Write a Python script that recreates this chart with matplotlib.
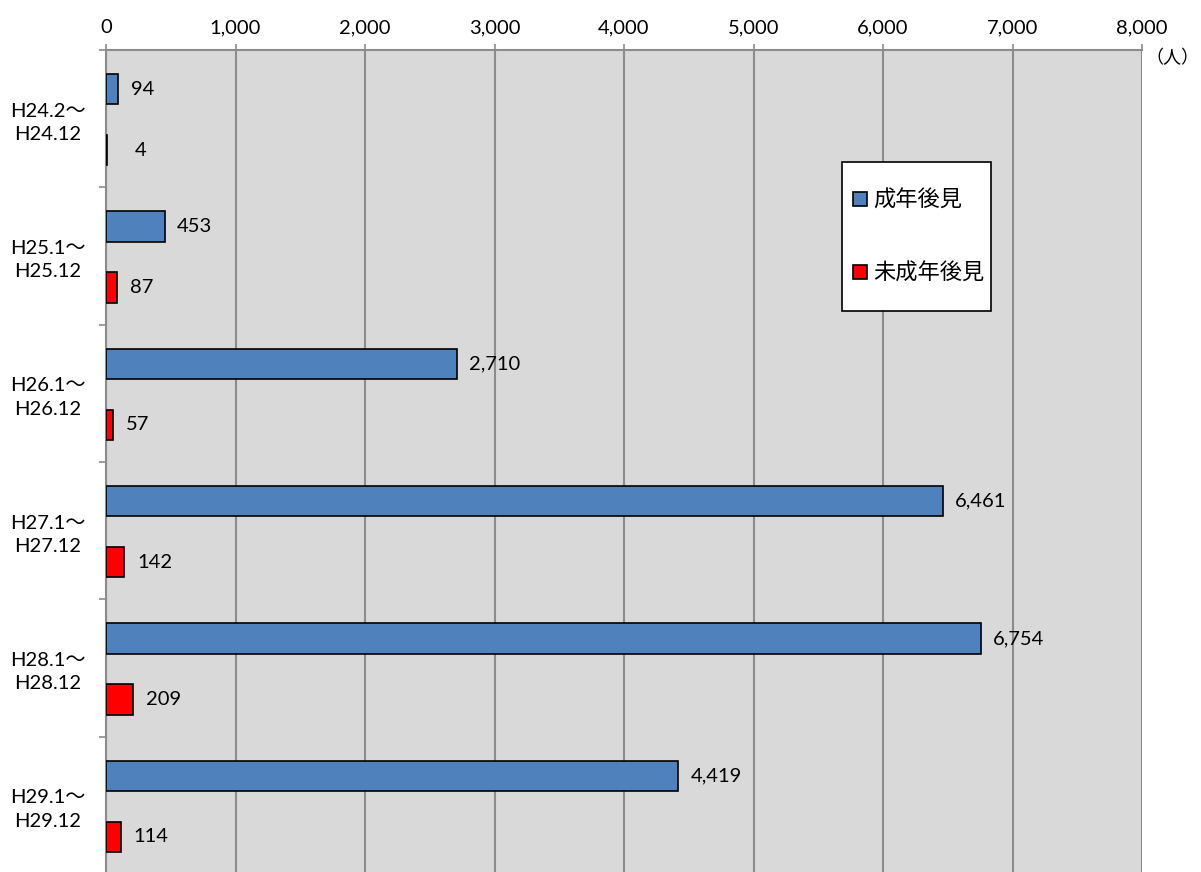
import matplotlib.pyplot as plt
import matplotlib.transforms as mtransforms
from matplotlib.lines import Line2D
from matplotlib.patches import Rectangle
from matplotlib.ticker import FuncFormatter
import numpy as np

plt.rcParams['font.family'] = ['Lato', 'Noto Sans CJK JP', 'DejaVu Sans']

# Data
periods = ['H24.2～\nH24.12', 'H25.1～\nH25.12', 'H26.1～\nH26.12',
           'H27.1～\nH27.12', 'H28.1～\nH28.12', 'H29.1～\nH29.12']
adult = [94, 453, 2710, 6461, 6754, 4419]       # 成年後見
minor = [4, 87, 57, 142, 209, 114]              # 未成年後見
series_names = ['成年後見', '未成年後見']

blue = '#4F81BD'
red = '#FF0000'
grid_gray = '#8C8C8C'
fs = 14.5

W, H = 1201, 872
ax_l, ax_r, ax_t, ax_b = 106, 1142, 50, 874

fig = plt.figure(figsize=(12.01, 8.72), dpi=100)
ax = fig.add_axes([ax_l / W, 1 - ax_b / H, (ax_r - ax_l) / W, (ax_b - ax_t) / H])
ax.set_facecolor('#D9D9D9')

y = np.arange(len(periods))
bar_h = 0.22
ax.barh(y - 0.215, adult, height=bar_h, color=blue, edgecolor='black', linewidth=1.2, zorder=3)
ax.barh(y + 0.23, minor, height=bar_h, color=red, edgecolor='black', linewidth=1.2, zorder=3)

# data labels
for yy, v in zip(y - 0.215, adult):
    ax.annotate(f'{v:,}', (v, yy), xytext=(9, 0), textcoords='offset points',
                va='center', ha='left', fontsize=fs, zorder=4)
for yy, v in zip(y + 0.23, minor):
    ax.annotate(f'{v:,}', (v, yy), xytext=(9 if v > 20 else 20, 0), textcoords='offset points',
                va='center', ha='left', fontsize=fs, zorder=4)

ax.set_xlim(0, 8000)
ax.set_ylim(len(periods) - 0.5, -0.5)
ax.set_xticks(np.arange(0, 8001, 1000))
ax.xaxis.set_major_formatter(FuncFormatter(lambda v, p: f'{int(v):,}'))
ax.xaxis.tick_top()
ax.tick_params(axis='x', length=4, width=1.2, color=grid_gray, pad=6, labelsize=fs)
ax.grid(axis='x', color=grid_gray, linewidth=1.5, zorder=1)

ax.set_yticks(y)
ax.set_yticklabels(periods, fontsize=fs, multialignment='center', ha='center',
                   linespacing=1.45, va='center')
ax.set_yticks(np.arange(-0.5, len(periods) + 0.5, 1), minor=True)
ax.tick_params(axis='y', which='major', length=0, pad=42)
ax.tick_params(axis='y', which='minor', length=5, width=1.2, color=grid_gray)
shift = mtransforms.ScaledTranslation(0, -3 / 72, fig.dpi_scale_trans)
for lbl in ax.get_yticklabels():
    lbl.set_transform(lbl.get_transform() + shift)

for side in ['bottom', 'right']:
    ax.spines[side].set_visible(False)
for side in ['top', 'left']:
    ax.spines[side].set_color(grid_gray)
    ax.spines[side].set_linewidth(1.5)

# legend box
def to_axes(px, py):
    return (px - ax_l) / (ax_r - ax_l), 1 - (py - ax_t) / (ax_b - ax_t)

box_x0, box_y1 = to_axes(842, 311)
box_x1, box_y0 = to_axes(991, 162)
ax.add_patch(Rectangle((box_x0, box_y1), box_x1 - box_x0, box_y0 - box_y1,
                       transform=ax.transAxes, facecolor='white', edgecolor='black',
                       linewidth=1.2, zorder=5))

handles = [Line2D([], [], linestyle='none', marker='s', markersize=9.5,
                  markerfacecolor=c, markeredgecolor='black', markeredgewidth=1.2)
           for c in (blue, red)]
leg = ax.legend(handles, series_names, loc='center left',
                bbox_to_anchor=(to_axes(853, 0)[0], to_axes(0, 236.5)[1]),
                frameon=False, borderpad=0, labelspacing=2.25,
                handlelength=0.6, handletextpad=0.3,
                borderaxespad=0, prop={'family': ['Noto Sans CJK JP'], 'size': 16})
leg.set_zorder(6)

fig.text(1172 / W, 1 - 58 / H, '（人）', ha='center', va='center', fontsize=13,
         family=['Noto Sans CJK JP'])

fig.savefig('out.png', dpi=100)
